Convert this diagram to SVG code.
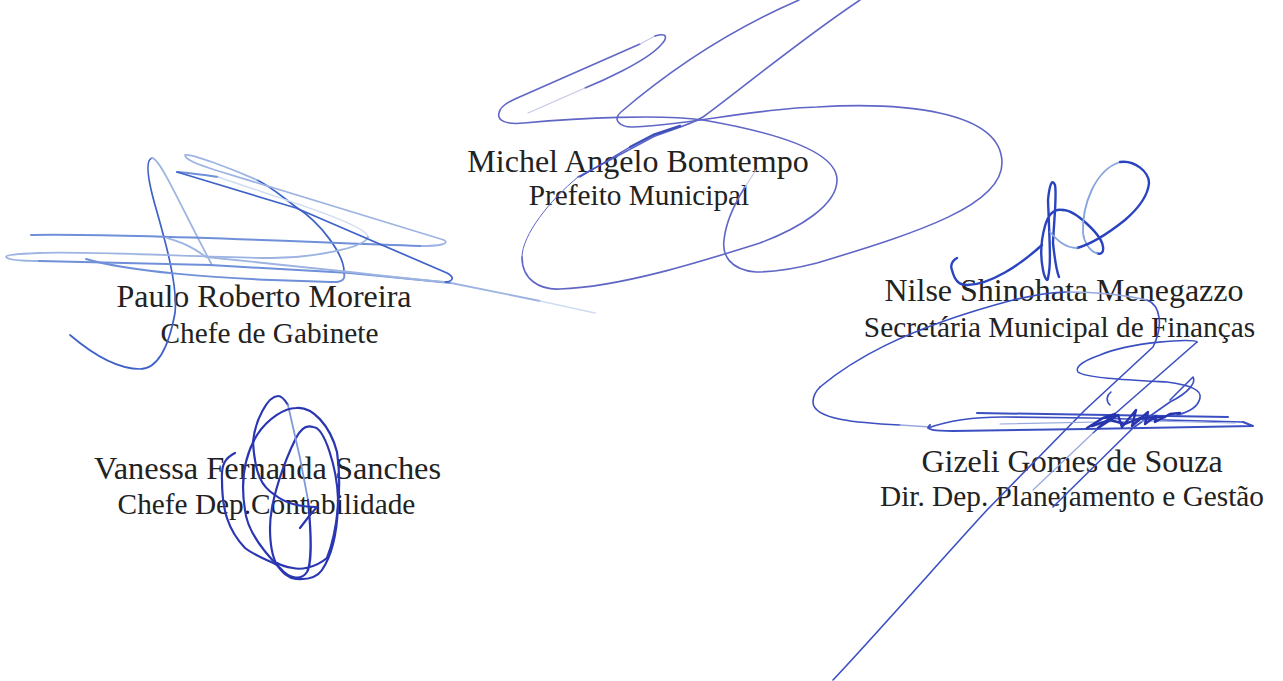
<svg xmlns="http://www.w3.org/2000/svg" width="1283" height="681" viewBox="0 0 1283 681">
<style>
.n{font-family:"Liberation Serif","Times New Roman",serif;font-size:32px;fill:#222;text-anchor:middle}
.r{font-family:"Liberation Serif","Times New Roman",serif;font-size:29.3px;fill:#222;text-anchor:middle}
path{fill:none;stroke-linecap:round;stroke-linejoin:round}
.m{stroke:#5f66c6;stroke-width:1.6}
.mf{stroke:#c4c8e6;stroke-width:1.2}
.md{stroke:#3f50bd;stroke-width:2.4}
.pl{stroke:#9db4e2;stroke-width:1.8}
.pm{stroke:#6f8fd8;stroke-width:2}
.pd{stroke:#3f62c8;stroke-width:1.7}
.pf{stroke:#cfdcf2;stroke-width:1.5}
.v{stroke:#2a36b2;stroke-width:2.2}
.vl{stroke:#7f9ad8;stroke-width:1.8}
.s{stroke:#2a44bf;stroke-width:2.4}
.sl{stroke:#86a4dd;stroke-width:1.8}
.g{stroke:#3b4fc2;stroke-width:1.6}
.gl{stroke:#98a8de;stroke-width:1.2}
.gd{stroke:#2635ad;stroke-width:2.4}
</style>
<rect width="1283" height="681" fill="#fff"/>
<g id="paulo">
<text class="n" x="264" y="307">Paulo Roberto Moreira</text>
<text class="r" x="269.500" y="343">Chefe de Gabinete</text>
<path class="pd" d="M70 335C90 352 115 369 140 369C160 369 170 340 175 313C178 285 165 240 155 205C148 180 145 160 152 158"/>
<path class="pl" d="M152 158C160 158 180 205 212 265"/>
<path class="pm" d="M86 259C130 272 220 278 272 280L331 282C345 283 345 277 344 273"/>
<path class="pd" d="M344 273C345 255 320 222 296 207C280 195 270 186 257 180"/>
<path class="pl" d="M257 180C230 168 190 153 185 155C185 160 200 165 215 170L444 240C450 244 440 246 420 246"/>
<path class="pm" d="M420 246C320 243 130 233 31 235"/>
<path class="pm" d="M177 172C190 173 205 175 218 177"/>
<path class="pf" d="M218 177C285 200 368 225 368 237"/>
<path class="pl" d="M368 237C365 248 310 258 272 258C210 258 100 251 39 253C15 254 6 255 6 257C8 260 20 261 39 261"/>
<path class="pm" d="M39 261L210 265L350 273L451 283"/>
<path class="pl" d="M451 283L540 301"/>
<path class="pf" d="M540 301L595 313"/>
<path class="pd" d="M177 172L296 208L447 273C456 278 452 282 444 282"/>
<path class="pl" d="M444 282C400 278 350 272 350 272L206 257C190 245 180 242 167 238"/>
</g>
<g id="michel">
<text class="n" x="638" y="172">Michel Angelo Bomtempo</text>
<text class="r" x="639" y="205">Prefeito Municipal</text>
<path class="m" d="M860 0C800 40 740 90 703 117C690 125 670 130 653 137L578 177"/>
<path class="m" style="stroke-width:1" d="M578 177C550 200 522 235 522 257"/>
<path class="m" d="M522 257C522 280 540 290 560 289C620 287 700 262 760 243C800 228 837 205 837 180C837 155 790 135 703 120C660 114 580 118 524 123C505 125 497 120 499 113C500 107 506 103 515 99L640 44"/>
<path class="mf" d="M640 44L655 36"/>
<path class="m" d="M655 36C668 32 668 38 660 46C645 62 600 82 585 88"/>
<path class="mf" d="M585 88L528 113"/>
<path class="m" d="M799 0C730 30 670 70 621 112C612 120 620 127 632 127C680 126 760 108 817 107C900 102 1002 110 1002 163C1002 205 920 232 817 263C790 270 770 272 756 272C730 270 722 255 724 240C726 220 735 203 745 187"/>
<path class="mf" d="M745 187L756 170"/>
<path class="md" d="M680 126L653 135L630 147"/>
<path class="md" style="stroke-width:1.3" d="M630 147L580 177"/>
</g>
<g id="vanessa">
<text class="n" x="267.500" y="479" style="font-size:32.400px">Vanessa Fernanda Sanches</text>
<text class="r" x="266.500" y="514">Chefe Dep.Contabilidade</text>
<path class="v" d="M235 453C225 458 221 465 222 480C222 510 228 530 245 548C255 556 268 560 277 565C283 573 288 578 296 579C310 580 318 576 322 570C332 555 338 530 338 498C337 470 325 427 313 427C305 424 300 430 296 438C285 460 270 500 270 528C270 545 273 558 277 565"/>
<path class="v" d="M300 528L310 515L317 507C298 507 285 503 275 495C262 487 255 475 253 442C255 420 268 396 278 396C282 396 285 400 288 405"/>
<path class="vl" d="M288 405L300 458L308 500"/>
<path class="v" d="M308 500C312 540 311 565 307 572C302 580 290 580 280 568C262 550 247 530 245 510C240 480 245 455 257 435C268 418 285 408 296 408C312 406 330 425 337 452C342 485 338 530 327 558C315 568 300 570 293 568C287 567 282 566 277 563"/>
</g>
<g id="nilse">
<text class="n" x="1064" y="301">Nilse Shinohata Menegazzo</text>
<text class="r" x="1059.500" y="337">Secretária Municipal de Finanças</text>
<path class="s" d="M957 258C950 262 951 268 952 270C955 282 960 285 967 285C990 285 1020 265 1042 245"/>
<path class="s" d="M1063 210C1053 208 1048 215 1045 226C1041 240 1040 255 1043 270C1045 280 1048 282 1048 278C1051 265 1050 250 1048 200C1050 180 1053 180 1055 185C1057 195 1054 220 1053 243C1055 262 1057 272 1059 277"/>
<path class="s" d="M1063 210C1075 210 1102 235 1103 247C1104 253 1100 255 1097 253"/>
<path class="sl" d="M1097 253C1090 252 1084 242 1083 233C1082 205 1095 170 1120 162"/>
<path class="s" d="M1120 162C1135 160 1149 172 1149 183C1148 195 1140 207 1125 220C1115 228 1095 243 1077 248"/>
<path class="sl" d="M1077 248C1065 248 1057 240 1050 232"/>
</g>
<g id="gizeli">
<text class="n" x="1072" y="472">Gizeli Gomes de Souza</text>
<text class="r" x="1072" y="506">Dir. Dep. Planejamento e Gestão</text>
<path class="g" d="M820 387C850 362 900 330 1013 300C1035 295 1050 292 1067 292"/>
<path class="gl" style="stroke-width:1.6" d="M1067 292C1095 292 1125 295 1147 300"/>
<path class="g" d="M1147 300C1160 305 1164 325 1153 347L1085 410L987 510C950 550 880 630 833 680"/>
<path class="g" d="M900 425C860 423 813 420 813 402C813 397 815 392 820 387"/>
<path class="gl" style="stroke-width:1.4" d="M900 425L930 427"/>
<path class="g" d="M1197 342C1195 338 1130 342 1100 355C1080 362 1075 368 1078 372C1085 378 1130 380 1167 382C1190 385 1202 390 1200 398C1198 408 1185 413 1177 415"/>
<path class="g" d="M1197 342L1093 433"/>
<path class="gl" d="M1093 433L1033 490"/>
<path class="g" d="M1170 400L1193 377C1196 382 1190 392 1170 402L1133 428L1053 507"/>
<path class="g" d="M1111 392C1106 396 1106 401 1110 405"/>
<path class="g" style="stroke-width:2" d="M977 413L1228 417"/>
<path class="g" d="M928 428C950 420 980 417 1003 417L1090 418L1243 422"/>
<path class="g" style="stroke-width:2" d="M930 425C924 430 935 431 953 431L1087 429L1253 426L1243 422"/>
<path class="gl" d="M1000 424L1150 421L1235 423"/>
<path class="gd" d="M1087 428L1103 418L1115 414L1098 428L1118 415L1122 427L1136 410L1132 426L1148 412L1145 424L1156 416L1155 422L1170 414L1180 413"/>
<path class="gd" d="M1092 426L1110 420L1125 424L1140 418L1165 417"/>
</g>
</svg>
